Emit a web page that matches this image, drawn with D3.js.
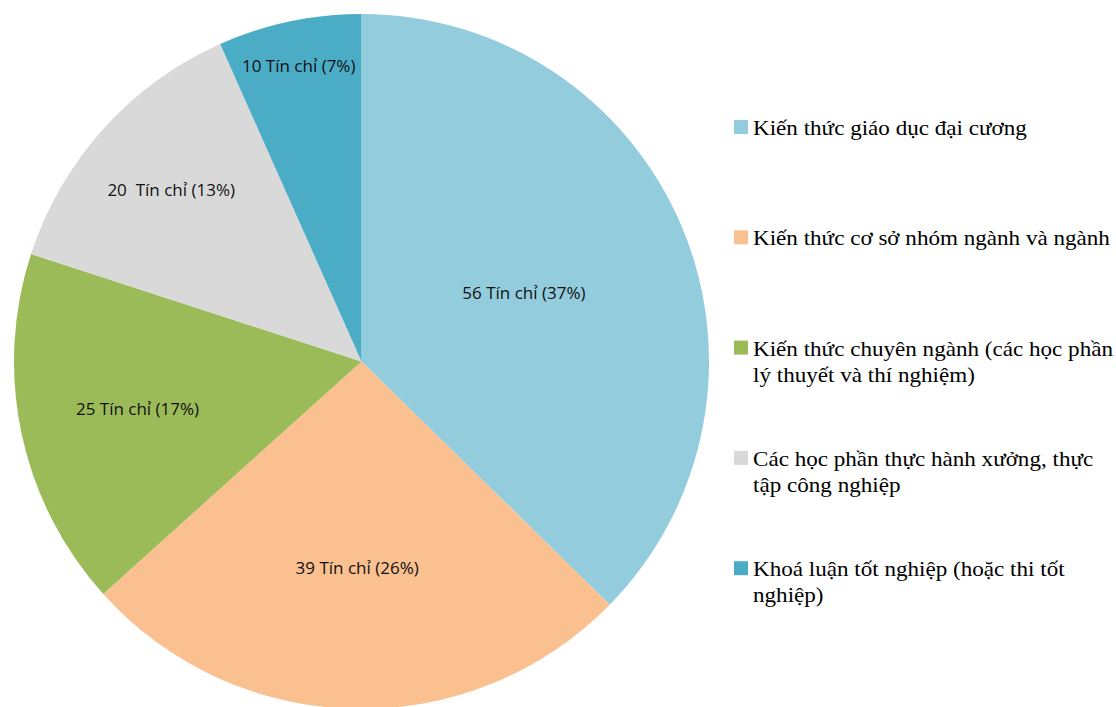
<!DOCTYPE html>
<html><head><meta charset="utf-8">
<script src="https://cdn.jsdelivr.net/npm/d3@7"></script>
<style>
html,body{margin:0;padding:0;background:#fff;}
svg{display:block;}
</style></head>
<body>
<svg id="chart" width="1116" height="707"></svg>
<script>
// ---- data ----
const categories = [
  ["Kiến thức giáo dục đại cương"],
  ["Kiến thức cơ sở nhóm ngành và ngành"],
  ["Kiến thức chuyên ngành (các học phần", "lý thuyết và thí nghiệm)"],
  ["Các học phần thực hành xưởng, thực", "tập công nghiệp"],
  ["Khoá luận tốt nghiệp (hoặc thi tốt", "nghiệp)"]
];
const values = [56, 39, 25, 20, 10];
const dataLabels = ["56 Tín chỉ (37%)", "39 Tín chỉ (26%)", "25 Tín chỉ (17%)", "20  Tín chỉ (13%)", "10 Tín chỉ (7%)"];
const colors = ["#93CDDD", "#FAC090", "#9BBB59", "#D9D9D9", "#4BACC6"];

// ---- layout ----
const cx = 361.5, cy = 361.5, R = 347.5;
const labelRadiusFrac = [0.507, 0.594, 0.659, 0.737, 0.869];

const svg = d3.select("#chart");
const g = svg.append("g").attr("transform", `translate(${cx},${cy})`);

const pie = d3.pie().sort(null).value(d => d)(values);
const arc = d3.arc().innerRadius(0).outerRadius(R);

g.selectAll("path.slice").data(pie).join("path")
  .attr("class", "slice")
  .attr("d", arc)
  .attr("fill", (d, i) => colors[i]);

g.selectAll("text.lbl").data(pie).join("text")
  .attr("class", "lbl")
  .attr("x", (d, i) => { const a = (d.startAngle + d.endAngle) / 2; return Math.sin(a) * R * labelRadiusFrac[i]; })
  .attr("y", (d, i) => { const a = (d.startAngle + d.endAngle) / 2; return -Math.cos(a) * R * labelRadiusFrac[i]; })
  .attr("dy", "0.357em")
  .attr("text-anchor", "middle")
  .attr("font-family", "'Open Sans', 'Noto Sans', sans-serif")
  .attr("font-size", 17)
  .attr("fill", "#111")
  .style("white-space", "pre")
  .text((d, i) => dataLabels[i]);

// legend
const legX = 734, legY0 = 120, legStep = 110.3, sq = 14, lineH = 26;
const leg = svg.append("g");
categories.forEach((lines, i) => {
  const y = legY0 + i * legStep;
  leg.append("rect").attr("x", legX).attr("y", y).attr("width", sq).attr("height", sq).attr("fill", colors[i]);
  const tx = legX + 19;
  const t = leg.append("text")
    .attr("transform", `translate(${tx},0) scale(1.05,1)`)
    .attr("font-family", "'Liberation Serif', 'Times New Roman', serif")
    .attr("font-size", 22)
    .attr("fill", "#000");
  lines.forEach((ln, j) => {
    t.append("tspan").attr("x", 0).attr("y", y + 15 + j * lineH).text(ln);
  });
});
</script>
</body></html>
